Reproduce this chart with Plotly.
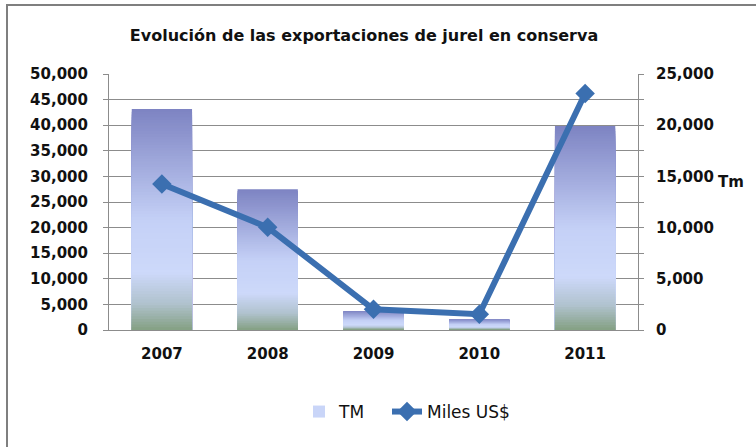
import plotly.graph_objects as go

years = ["2007", "2008", "2009", "2010", "2011"]
tm_values = [21580, 13740, 1860, 1050, 19920]          # TM (right axis, Tm)
miles_usd = [28500, 20050, 4050, 3070, 46200]           # Miles US$ (left axis)

title_text = "Evolución de las exportaciones de jurel en conserva"
left_ticks = [0, 5000, 10000, 15000, 20000, 25000, 30000, 35000, 40000, 45000, 50000]
right_ticks = [0, 5000, 10000, 15000, 20000, 25000]

FONT = "DejaVu Sans"
GRID = "#8c8c8c"
LINE_COLOR = "#3b6fb0"
TXT = "#111111"

# gradient stops for the bar fill (position from top of the bar -> colour)
stops = [(0.0, (125, 131, 194)), (0.5, (196, 208, 246)), (0.74, (205, 217, 250)),
         (0.88, (176, 194, 206)), (1.0, (132, 160, 130))]

def grad(t):
    for (p0, c0), (p1, c1) in zip(stops[:-1], stops[1:]):
        if p0 <= t <= p1:
            f = (t - p0) / (p1 - p0) if p1 > p0 else 0
            return "rgb(%d,%d,%d)" % tuple(round(a + (b - a) * f) for a, b in zip(c0, c1))
    return "rgb(%d,%d,%d)" % stops[-1][1]

fig = go.Figure()

N = 80
for k in range(N):
    frac = 1 - k / N
    fig.add_trace(go.Bar(
        x=years, y=[v * frac for v in tm_values],
        marker=dict(color=grad((k + 0.5) / N), line=dict(width=0)),
        name="TM", legendgroup="tm", legend="legend",
        showlegend=(k == 50),
        hoverinfo="skip" if k else None,
        yaxis="y", width=0.57,
    ))

fig.add_trace(go.Scatter(
    x=years, y=miles_usd, name="Miles US$", mode="lines+markers",
    line=dict(color=LINE_COLOR, width=6),
    marker=dict(symbol="diamond", size=15, color=LINE_COLOR),
    yaxis="y2", legend="legend2",
))

legend_common = dict(orientation="h", xanchor="left", y=(330 - 412) / 256, yanchor="middle",
                     font=dict(family=FONT, size=17, color=TXT), bgcolor="rgba(0,0,0,0)")

fig.update_layout(
    width=756, height=447,
    margin=dict(l=109, r=118, t=74, b=117),
    paper_bgcolor="white", plot_bgcolor="white",
    barmode="overlay",
    title=dict(text="<b>" + title_text + "</b>", x=364 / 756, xanchor="center",
               y=1 - 35 / 447, yanchor="middle",
               font=dict(family=FONT, size=16, color=TXT)),
    font=dict(family=FONT, color=TXT),
    xaxis=dict(
        showline=True, linecolor=GRID, linewidth=1,
        showgrid=False, ticks="", ticklabelstandoff=10,
        tickfont=dict(family=FONT, size=15, color=TXT, weight="bold"),
    ),
    yaxis=dict(
        side="right", range=[0, 25000], tickvals=right_ticks,
        tickformat=",d", showline=True, linecolor=GRID, linewidth=1,
        ticks="outside", ticklen=5, tickcolor=GRID,
        showgrid=True, gridcolor=GRID, gridwidth=1,
        minor=dict(dtick=2500, ticks="outside", ticklen=5, tickcolor=GRID,
                   showgrid=True, gridcolor=GRID, gridwidth=1),
        zeroline=False, ticklabelstandoff=9,
        tickfont=dict(family=FONT, size=15, color=TXT, weight="bold"),
    ),
    yaxis2=dict(
        overlaying="y", side="left", range=[0, 50000], tickvals=left_ticks,
        tickformat=",d", showline=True, linecolor=GRID, linewidth=1,
        ticks="outside", ticklen=5, tickcolor=GRID,
        showgrid=False, zeroline=False, ticklabelstandoff=12,
        tickfont=dict(family=FONT, size=15, color=TXT, weight="bold"),
    ),
    legend=dict(x=(299 - 109) / 529, **legend_common),
    legend2=dict(x=(387 - 109) / 529, **legend_common),
    showlegend=True,
    annotations=[dict(text="<b>Tm</b>", xref="paper", yref="paper",
                      x=(731 - 109) / 529, y=(330 - 182) / 256,
                      showarrow=False, xanchor="center", yanchor="middle",
                      font=dict(family=FONT, size=15, color=TXT))],
    shapes=[dict(type="rect", xref="paper", yref="paper",
                 x0=(7 - 109) / 529, x1=(770 - 109) / 529,
                 y0=(330 - 460) / 256, y1=1 + (74 - 5) / 256,
                 line=dict(color="#7f7f7f", width=2), layer="below")],
)

fig.write_html("out.html", config={"displayModeBar": False},
               post_script="document.body.style.margin='0';document.body.style.overflow='hidden';")
